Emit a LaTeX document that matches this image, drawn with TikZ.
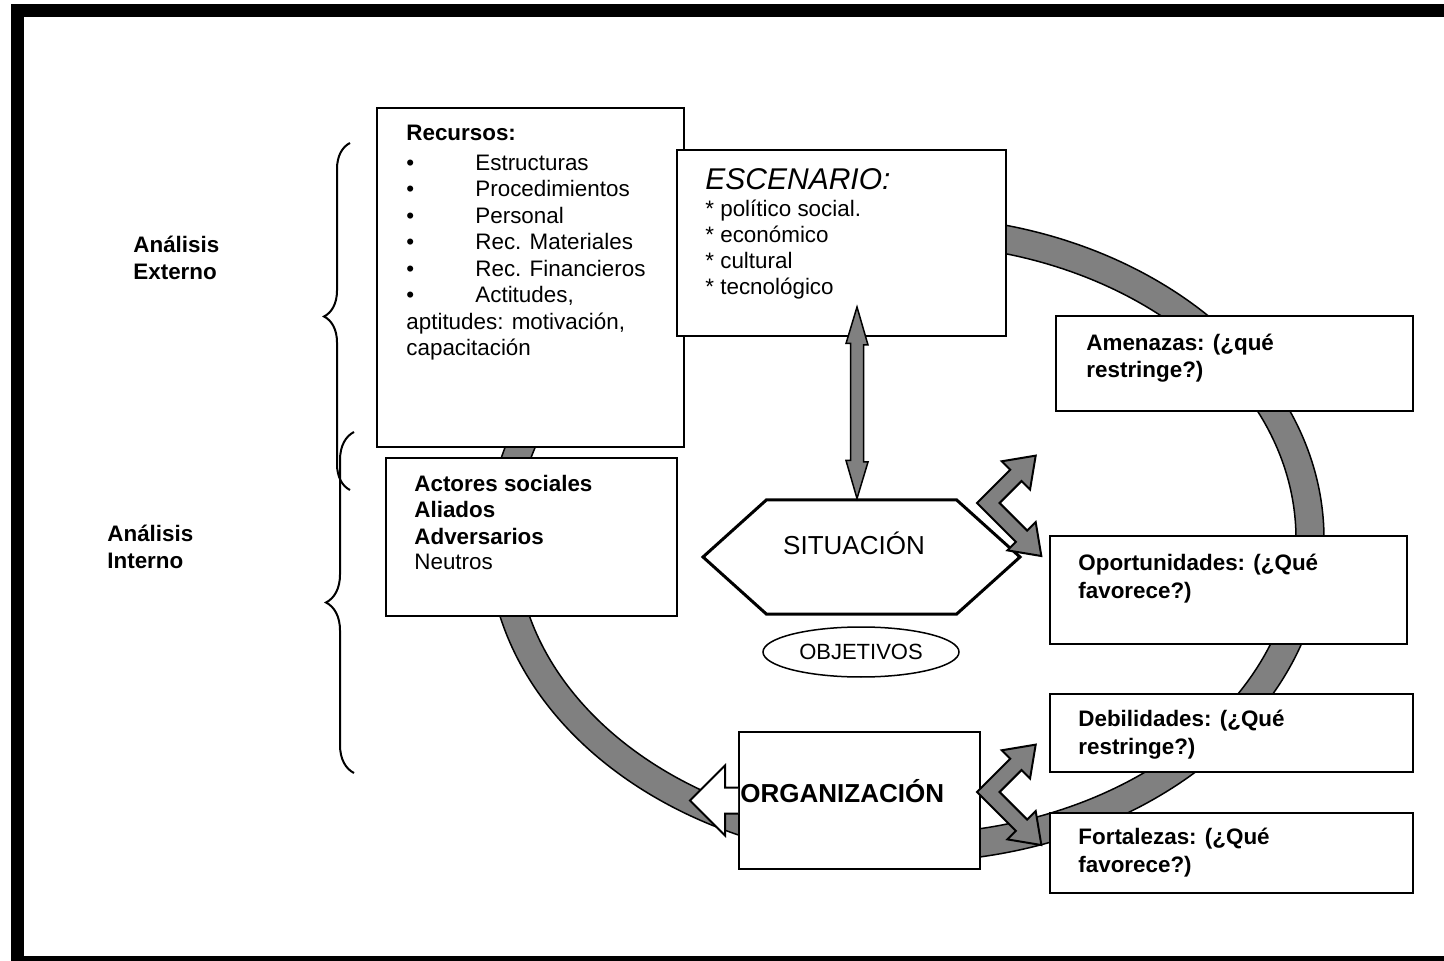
\documentclass[tikz,border=0pt]{standalone}
\usepackage{fontspec}
\setmainfont{Liberation Sans}
\usetikzlibrary{shapes.geometric,shapes.symbols,decorations.pathreplacing,calc}
\definecolor{ringgray}{RGB}{128,128,128}

\begin{document}
\begin{tikzpicture}[x=0.5pt,y=0.5pt]
\tikzstyle{every node}+=[inner sep=0pt]
\tikzstyle{box}=[draw=black, fill=white, line width=1pt, anchor=north west]
\tikzstyle{txt}=[anchor=base west, align=left, font=\fontsize{11.2}{13}\selectfont]
\tikzstyle{swot}=[anchor=base west, align=left, font=\fontsize{11.2}{13.6}\selectfont\bfseries]
\tikzstyle{bent}=[fill=ringgray, draw=black, line width=1pt]
\useasboundingbox (0,0) rectangle (1444,-961);
\draw [black, line width=6.5pt] (17.5,-11) rectangle (1470,-962);
\draw [black, fill=ringgray, even odd rule, line width=0.75pt] (906,-539) ellipse [x radius=209pt, y radius=161.5pt] (906,-539) ellipse [x radius=195pt, y radius=147.5pt];
\draw [black, line width=1pt, decorate, decoration={brace, amplitude=13pt}] (350,-490) -- (350,-143);
\draw [black, line width=1pt, decorate, decoration={brace, amplitude=14pt}] (354,-773) -- (354,-432);
\node [box, minimum width=153.5pt, minimum height=169.5pt] (recursos) at (376,-107) {};
\node [box, minimum width=145.5pt, minimum height=79pt] (actores) at (385,-457) {};
\node [box, minimum width=164.5pt, minimum height=93pt] (escenario) at (676,-149) {};
\node [box, minimum width=178.5pt, minimum height=47.5pt] (amenazas) at (1055,-315) {};
\node [box, minimum width=178.5pt, minimum height=54pt] (oportunidades) at (1049,-535) {};
\node [box, minimum width=181.5pt, minimum height=39pt] (debilidades) at (1049,-693) {};
\node [box, minimum width=181.5pt, minimum height=40pt] (fortalezas) at (1049,-812) {};
\node [draw=black, fill=white, line width=1.5pt, signal, signal to=east and west, signal pointer angle=84, minimum width=158.5pt, minimum height=57pt] (situacion) at (861.5,-557) {};
\node [font=\fontsize{13}{15}\selectfont] (situacion-t) at (854,-543) {SITUACIÓN};
\node [draw=black, line width=0.75pt, ellipse, minimum width=98pt, minimum height=25pt, font=\fontsize{11}{13}\selectfont] (objetivos) at (861,-652) {OBJETIVOS};
\coordinate (esc-in) at (857,-307);
\draw [bent, line width=0.75pt] (esc-in) -- ++(11,-38) -- ++(-4.5,0) -- ++(0,-117) -- ++(4.5,0) -- (esc-in |- situacion.north) -- ++(-11,38) -- ++(4.5,0) -- ++(0,117) -- ++(-4.5,0) -- cycle;
\node [box, minimum width=120.5pt, minimum height=68.5pt] (organizacion) at (738,-731) {};
\draw [black, fill=white, line width=1pt] ($(organizacion.west)+(0,13)$) -- ++(-13,0) -- ++(0,22) -- ++(-35,-35) -- ++(35,-35) -- ++(0,22) -- ++(13,0);
\draw [bent, shift={(977,-503)}, rotate=-45] (0,0) -- (55,0) -- (55,-12) -- (83,8) -- (55,28) -- (55,16) -- (16,16) -- (16,47) -- (28,47) -- (8,75) -- (-12,47) -- (0,47) -- cycle;
\draw [bent, shift={(977,-792)}, rotate=-45] (0,0) -- (55,0) -- (55,-12) -- (83,8) -- (55,28) -- (55,16) -- (16,16) -- (16,47) -- (28,47) -- (8,75) -- (-12,47) -- (0,47) -- cycle;
\node [txt, font=\fontsize{11.2}{13.25}\selectfont] (recursos-t) at (406,-356) {\textbf{Recursos:}\\[1.6pt]
\makebox[34.5pt][l]{•}Estructuras\\
\makebox[34.5pt][l]{•}Procedimientos\\
\makebox[34.5pt][l]{•}Personal\\
\makebox[34.5pt][l]{•}Rec. Materiales\\
\makebox[34.5pt][l]{•}Rec. Financieros\\
\makebox[34.5pt][l]{•}Actitudes,\\
aptitudes: motivación,\\
capacitación};
\node [anchor=base west, font=\fontsize{15}{18}\selectfont\itshape] (escenario-t) at (705,-190) {ESCENARIO:};
\node [txt] (escenario-l) at (705,-295) {* político social.\\* económico\\* cultural\\* tecnológico};
\node [txt] (actores-t) at (414,-570) {\textbf{Actores sociales}\\\textbf{Aliados}\\\textbf{Adversarios}\\Neutros};
\node [swot, font=\fontsize{11.2}{13.5}\selectfont\bfseries] (externo) at (133,-280) {Análisis\\Externo};
\node [swot, font=\fontsize{11.2}{13.5}\selectfont\bfseries] (interno) at (107,-569) {Análisis\\Interno};
\node [swot] (amenazas-t) at (1086,-378) {Amenazas: (¿qué\\restringe?)};
\node [swot] (oportunidades-t) at (1078,-598) {Oportunidades: (¿Qué\\favorece?)};
\node [swot] (debilidades-t) at (1078,-754) {Debilidades: (¿Qué\\restringe?)};
\node [swot] (fortalezas-t) at (1078,-872) {Fortalezas: (¿Qué\\favorece?)};
\node [anchor=base west, font=\fontsize{13}{15}\selectfont\bfseries] (organizacion-t) at (740,-802) {ORGANIZACIÓN};
\end{tikzpicture}
\end{document}
